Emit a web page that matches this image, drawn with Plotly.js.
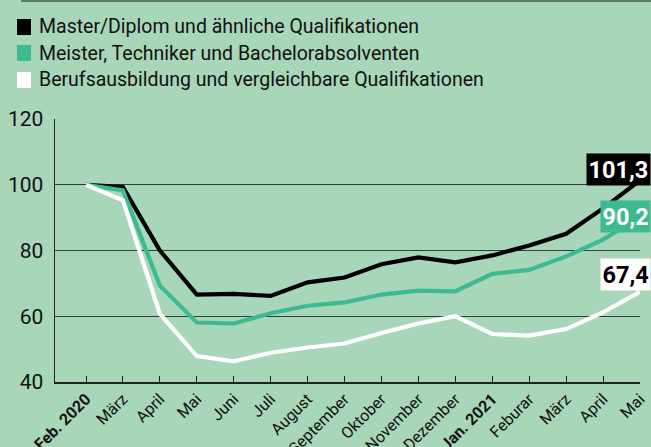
<!DOCTYPE html>
<html><head><meta charset="utf-8">
<script src="https://cdn.plot.ly/plotly-3.0.1.min.js"></script>
<style>html,body{margin:0;padding:0;background:#a8d6b8;}</style>
</head><body>
<div id="chart" style="width:651px;height:447px;"></div>
<script>
const categories = ["<b>Feb. 2020</b>","März","April","Mai","Juni","Juli","August","September","Oktober","November","Dezember","<b>Jan. 2021</b>","Feburar","März","April","Mai"];
const seriesNames = ["Master/Diplom und ähnliche Qualifikationen","Meister, Techniker und Bachelorabsolventen","Berufsausbildung und vergleichbare Qualifikationen"];
const master = [100,99.3,80,66.6,66.8,66.2,70.3,71.8,75.8,77.9,76.4,78.5,81.5,85.1,92.8,101.3];
const meister = [100,98.3,69.3,58.1,57.8,60.9,63.2,64.2,66.6,67.8,67.6,72.9,74.1,78.2,83.3,90.2];
const beruf = [100,95.3,60.7,47.9,46.3,48.9,50.5,51.7,54.9,57.8,60.0,54.6,54.1,56.1,61.2,67.4];
const yTicks = [40,60,80,100,120];

const colors = ["#000000","#3dba92","#ffffff"];
const bg = "#a8d6b8";
const W=651,H=447, L=55, R=11, T=119, B=65;
const pw=W-L-R, ph=H-T-B;
const px=x=>(x-L)/pw, py=y=>(H-B-y)/ph;
const idx = categories.map((_,i)=>i);
const all=[master,meister,beruf];
const traces = all.map((s,i)=>({x:idx,y:s,type:'scatter',mode:'lines',name:seriesNames[i],
  line:{color:colors[i],width:4.2,shape:'linear'},showlegend:false,hoverinfo:'skip'}));
const fmt=v=>v.toFixed(1).replace('.',',');
const font="Roboto, 'Noto Sans', sans-serif";
const annotations=[];
const shapes=[{type:'line',xref:'paper',yref:'paper',x0:px(21),x1:px(651),y0:py(1),y1:py(1),line:{color:'#5e7a6c',width:2}}];
const legY=[27,53,80];
seriesNames.forEach((n,i)=>{
  shapes.push({type:'rect',xref:'paper',yref:'paper',x0:px(17),x1:px(31),y0:py(legY[i]+8),y1:py(legY[i]-8),fillcolor:colors[i],line:{width:0}});
  annotations.push({xref:'paper',yref:'paper',x:px(37),y:py(legY[i]),xanchor:'left',yanchor:'middle',showarrow:false,text:n,font:{family:font,size:19.5,color:'#111'}});
});
const labelBg=["#000000","#3dba92","#ffffff"], labelFg=["#ffffff","#ffffff","#000000"], yshift=[11,0,17];
all.forEach((s,i)=>{
  annotations.push({xref:'paper',yref:'y',x:1,y:s[s.length-1],xanchor:'right',xshift:R,yanchor:'middle',yshift:yshift[i],showarrow:false,
    text:'<b>'+fmt(s[s.length-1])+'</b>',bgcolor:labelBg[i],borderpad:1.5,font:{family:font,size:23.5,color:labelFg[i]}});
});
const layout={width:W,height:H,paper_bgcolor:bg,plot_bgcolor:bg,
  margin:{l:L,r:R,t:T,b:B},showlegend:false,
  xaxis:{range:[-0.84,15],tickmode:'array',tickvals:idx,ticktext:categories,tickangle:-45,
    ticks:'inside',ticklen:6,tickcolor:'#222',showline:true,linecolor:'#222',linewidth:1.5,showgrid:false,zeroline:false,
    tickfont:{family:font,size:16,color:'#111'},fixedrange:true},
  yaxis:{range:[40,120],tickvals:yTicks,ticks:'',showline:true,linecolor:'#222',linewidth:1.5,
    showgrid:true,gridcolor:'#2f3f36',gridwidth:1.2,zeroline:false,ticklabelstandoff:6,
    tickfont:{family:font,size:21,color:'#111'},fixedrange:true},
  annotations:annotations,shapes:shapes};
Plotly.newPlot('chart',traces,layout,{displayModeBar:false,staticPlot:true});
</script></body></html>
